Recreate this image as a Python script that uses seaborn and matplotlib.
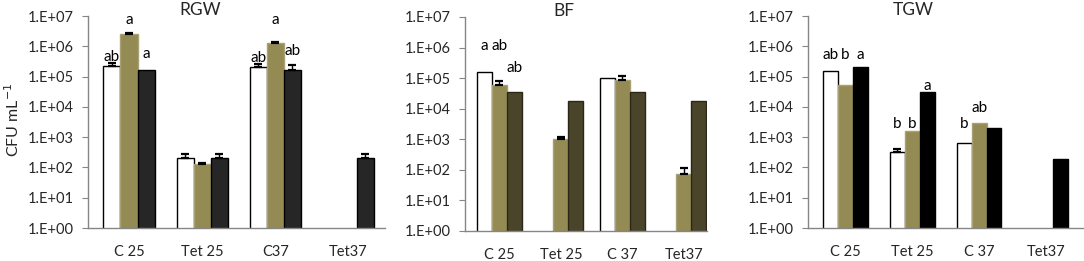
import numpy as np
import pandas as pd
import matplotlib
matplotlib.use("Agg")
import matplotlib.pyplot as plt
import seaborn as sns
from matplotlib.container import BarContainer
from matplotlib.ticker import FixedLocator, FuncFormatter, NullLocator

sns.set_theme(style="white")
plt.rcParams['font.family'] = ['Lato', 'DejaVu Sans']

nan = np.nan
series = ["s1", "s2", "s3"]

# ---- RGW ----
rgw_cats = ["C 25", "Tet 25", "C37", "Tet37"]
rgw_s1 = [2.2e5, 2.0e2, 2.1e5, nan]
rgw_s2 = [2.5e6, 1.3e2, 1.32e6, nan]
rgw_s3 = [1.7e5, 2.1e2, 1.7e5, 2.1e2]
rgw_e1 = [2.8e5, 2.7e2, 2.7e5, nan]
rgw_e2 = [2.65e6, 1.42e2, 1.38e6, nan]
rgw_e3 = [nan, 2.7e2, 2.5e5, 2.7e2]

# ---- BF ----
bf_cats = ["C 25", "Tet 25", "C 37", "Tet37"]
bf_s1 = [1.6e5, nan, 1.02e5, nan]
bf_s2 = [5.9e4, 1.0e3, 8.5e4, 73]
bf_s3 = [3.6e4, 1.85e4, 3.4e4, 1.85e4]
bf_e1 = [nan, nan, nan, nan]
bf_e2 = [7.9e4, 1.15e3, 1.18e5, 117]
bf_e3 = [nan, nan, nan, nan]

# ---- TGW ----
tgw_cats = ["C 25", "Tet 25", "C 37", "Tet37"]
tgw_s1 = [1.53e5, 3.15e2, 6.25e2, nan]
tgw_s2 = [5.4e4, 1.64e3, 2.93e3, nan]
tgw_s3 = [2.1e5, 3.2e4, 2.06e3, 1.85e2]
tgw_e1 = [nan, 4.1e2, nan, nan]
tgw_e2 = [nan, nan, nan, nan]
tgw_e3 = [nan, nan, nan, nan]

# significance letters: (category index, series index, text, log10 of baseline)
rgw_letters = [(0, 0, "ab", 5.52), (0, 1, "a", 6.72), (0, 2, "a", 5.62),
               (2, 0, "ab", 5.47), (2, 1, "a", 6.72), (2, 2, "ab", 5.70)]
bf_letters = [(0, 0, "a", 5.91), (0, 1, "ab", 5.91), (0, 2, "ab", 5.20)]
tgw_letters = [(0, 0, "ab", 5.59), (0, 1, "b", 5.59), (0, 2, "a", 5.59),
               (1, 0, "b", 3.30), (1, 1, "b", 3.30), (1, 2, "a", 4.57),
               (2, 0, "b", 3.30), (2, 1, "ab", 3.83)]

olive = "#948A54"
panels = [
    dict(title="RGW", cats=rgw_cats, vals=[rgw_s1, rgw_s2, rgw_s3], errs=[rgw_e1, rgw_e2, rgw_e3],
         letters=rgw_letters, colors=["#FFFFFF", olive, "#262626"],
         edges=["#000000", "#A9A073", "#000000"],
         rect=[88, 385, 16, 228], xlim=(-0.56, 3.5), width=0.70, title_x=200),
    dict(title="BF", cats=bf_cats, vals=[bf_s1, bf_s2, bf_s3], errs=[bf_e1, bf_e2, bf_e3],
         letters=bf_letters, colors=["#FFFFFF", olive, "#4A452A"],
         edges=["#000000", "#A9A073", "#2A2717"],
         rect=[465, 707, 17, 231], xlim=(-0.56, 3.38), width=0.73, title_x=564),
    dict(title="TGW", cats=tgw_cats, vals=[tgw_s1, tgw_s2, tgw_s3], errs=[tgw_e1, tgw_e2, tgw_e3],
         letters=tgw_letters, colors=["#FFFFFF", olive, "#000000"],
         edges=["#000000", "#A9A073", "#000000"],
         rect=[808, 1084, 16, 228], xlim=(-0.56, 3.57), width=0.67, title_x=913),
]

W, H = 1084, 261
fig = plt.figure(figsize=(W / 100, H / 100), dpi=100)
spine_col = "#868686"

for i, p in enumerate(panels):
    l, r, t, b = p["rect"]
    ax = fig.add_axes([l / W, 1 - b / H, (r - l) / W, (b - t) / H])
    rows = []
    for s, vals in zip(series, p["vals"]):
        for c, v in zip(p["cats"], vals):
            rows.append(dict(cat=c, series=s, value=v))
    df = pd.DataFrame(rows)
    ax.set_yscale("log")
    sns.barplot(data=df, x="cat", y="value", hue="series", order=p["cats"],
                hue_order=series, palette=p["colors"], width=p["width"],
                errorbar=None, legend=False, ax=ax, linewidth=1.0, saturation=1)
    bar_conts = [c for c in ax.containers if isinstance(c, BarContainer)]
    centers = {}
    for si, cont in enumerate(bar_conts):
        for bar in cont.patches:
            h = bar.get_height()
            if not np.isfinite(h) or h <= 0:
                bar.set_visible(False)
                continue
            bar.set_edgecolor(p["edges"][si])
            xc = bar.get_x() + bar.get_width() / 2
            ci = int(round(xc))
            centers[(ci, si)] = (xc, h)
            e = p["errs"][si][ci]
            if np.isfinite(e):
                ax.errorbar([xc], [h], yerr=[[0], [e - h]], fmt="none",
                            ecolor="black", elinewidth=1.0, capsize=3, capthick=1.6,
                            zorder=3)
    for ci, si, txt, lg in p["letters"]:
        if (ci, si) in centers:
            xc = centers[(ci, si)][0]
        else:
            xc = ci + (si - 1) * p["width"] / 3
        ax.text(xc, 10 ** lg, txt, ha="center", va="baseline", fontsize=11, color="black")

    ax.set_ylim(1, 1e7)
    ax.set_xlim(*p["xlim"])
    ax.yaxis.set_major_locator(FixedLocator([10.0 ** k for k in range(8)]))
    ax.yaxis.set_minor_locator(NullLocator())
    ax.yaxis.set_major_formatter(FuncFormatter(lambda v, pos: "1.E+%02d" % int(round(np.log10(v)))))
    ax.tick_params(axis="y", which="major", length=4, width=0.8, color=spine_col,
                   labelsize=10.5, pad=6, left=True)
    ax.tick_params(axis="x", length=0, labelsize=10.5, pad=12)
    ax.set_xlabel("")
    ax.set_ylabel("")
    for side in ["top", "right"]:
        ax.spines[side].set_visible(False)
    for side in ["left", "bottom"]:
        ax.spines[side].set_color(spine_col)
        ax.spines[side].set_linewidth(1.0)
    ax.grid(False)
    ax.set_facecolor("white")
    ax.text((p["title_x"] - l) / (r - l), 1 + 6 / (b - t), p["title"],
            transform=ax.transAxes, ha="center", va="center", fontsize=12.5)
    if i == 0:
        fig.text(13 / W, 1 - 120 / H, "CFU mL$^{-1}$", rotation=90, ha="center",
                 va="center", fontsize=11.5)

fig.savefig("out.png", dpi=100)
